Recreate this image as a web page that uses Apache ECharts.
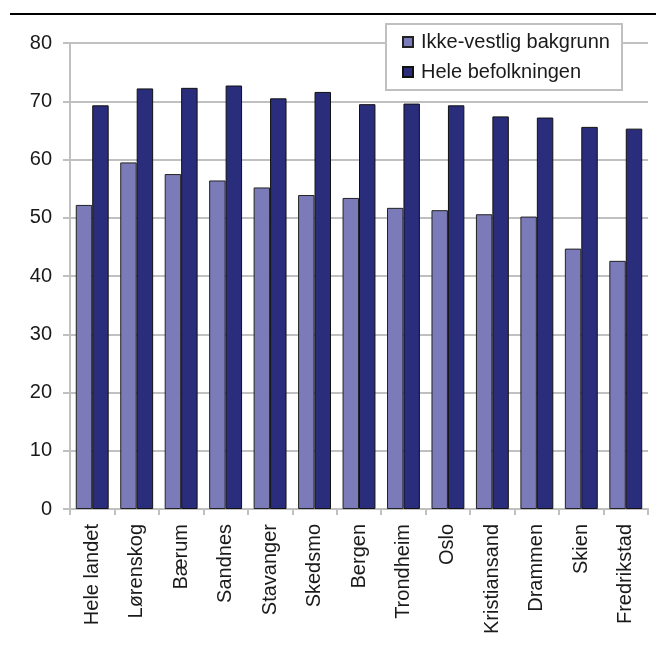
<!DOCTYPE html>
<html>
<head>
<meta charset="utf-8">
<script src="https://cdn.jsdelivr.net/npm/echarts@6/dist/echarts.min.js"></script>
<style>
  html, body { margin: 0; padding: 0; background: #fff; }
  #chart { width: 668px; height: 650px; }
</style>
</head>
<body>
<div id="chart"></div>
<script>
// kommuner / kategorier
var categories = ['Hele landet', 'Lørenskog', 'Bærum', 'Sandnes', 'Stavanger', 'Skedsmo',
  'Bergen', 'Trondheim', 'Oslo', 'Kristiansand', 'Drammen', 'Skien', 'Fredrikstad'];
var ikkeVestlig = [52.2, 59.5, 57.5, 56.4, 55.2, 53.9, 53.4, 51.7, 51.3, 50.6, 50.2, 44.7, 42.6];
var heleBefolkningen = [69.3, 72.2, 72.3, 72.7, 70.5, 71.6, 69.5, 69.6, 69.3, 67.4, 67.2, 65.6, 65.3];
var yTicks = [0, 10, 20, 30, 40, 50, 60, 70, 80];

var font = 'Liberation Sans';
var gridGray = '#c0c0c0';

var chart = echarts.init(document.getElementById('chart'));
var option = {
  animation: false,
  textStyle: { fontFamily: font },
  graphic: [{
    type: 'line',
    shape: { x1: 10, y1: 14, x2: 656, y2: 14 },
    style: { stroke: '#000', lineWidth: 2 }
  }],
  grid: { left: 70, right: 20, top: 43, bottom: 141 },
  legend: {
    orient: 'vertical',
    left: 386, top: 24,
    padding: [8, 12, 8, 16],
    itemGap: 10,
    itemWidth: 10, itemHeight: 10,
    icon: 'rect',
    backgroundColor: '#fff',
    borderColor: gridGray, borderWidth: 2,
    textStyle: { fontFamily: font, fontSize: 20, color: '#1a1a1a', padding: [0, 0, 0, 3] },
    data: ['Ikke-vestlig bakgrunn', 'Hele befolkningen']
  },
  xAxis: {
    type: 'category',
    data: categories,
    axisLine: { lineStyle: { color: gridGray, width: 2 } },
    axisTick: { show: true, length: 6, lineStyle: { color: gridGray, width: 2 } },
    axisLabel: { rotate: 90, fontSize: 20, color: '#1a1a1a', margin: 15, interval: 0 }
  },
  yAxis: {
    type: 'value',
    min: yTicks[0], max: yTicks[yTicks.length - 1], interval: 10,
    axisLine: { show: true, lineStyle: { color: gridGray, width: 2 } },
    axisTick: { show: true, length: 7, lineStyle: { color: gridGray, width: 2 } },
    axisLabel: { fontSize: 20, color: '#1a1a1a', margin: 18 },
    splitLine: { lineStyle: { color: gridGray, width: 2 } }
  },
  series: [
    {
      name: 'Ikke-vestlig bakgrunn',
      type: 'bar',
      data: ikkeVestlig,
      barGap: '0%',
      barCategoryGap: '26%',
      itemStyle: { color: '#7c7bba', borderColor: '#222', borderWidth: 1 }
    },
    {
      name: 'Hele befolkningen',
      type: 'bar',
      data: heleBefolkningen,
      itemStyle: { color: '#292d7c', borderColor: '#111', borderWidth: 1 }
    }
  ]
};
chart.setOption(option);
</script>
</body>
</html>
